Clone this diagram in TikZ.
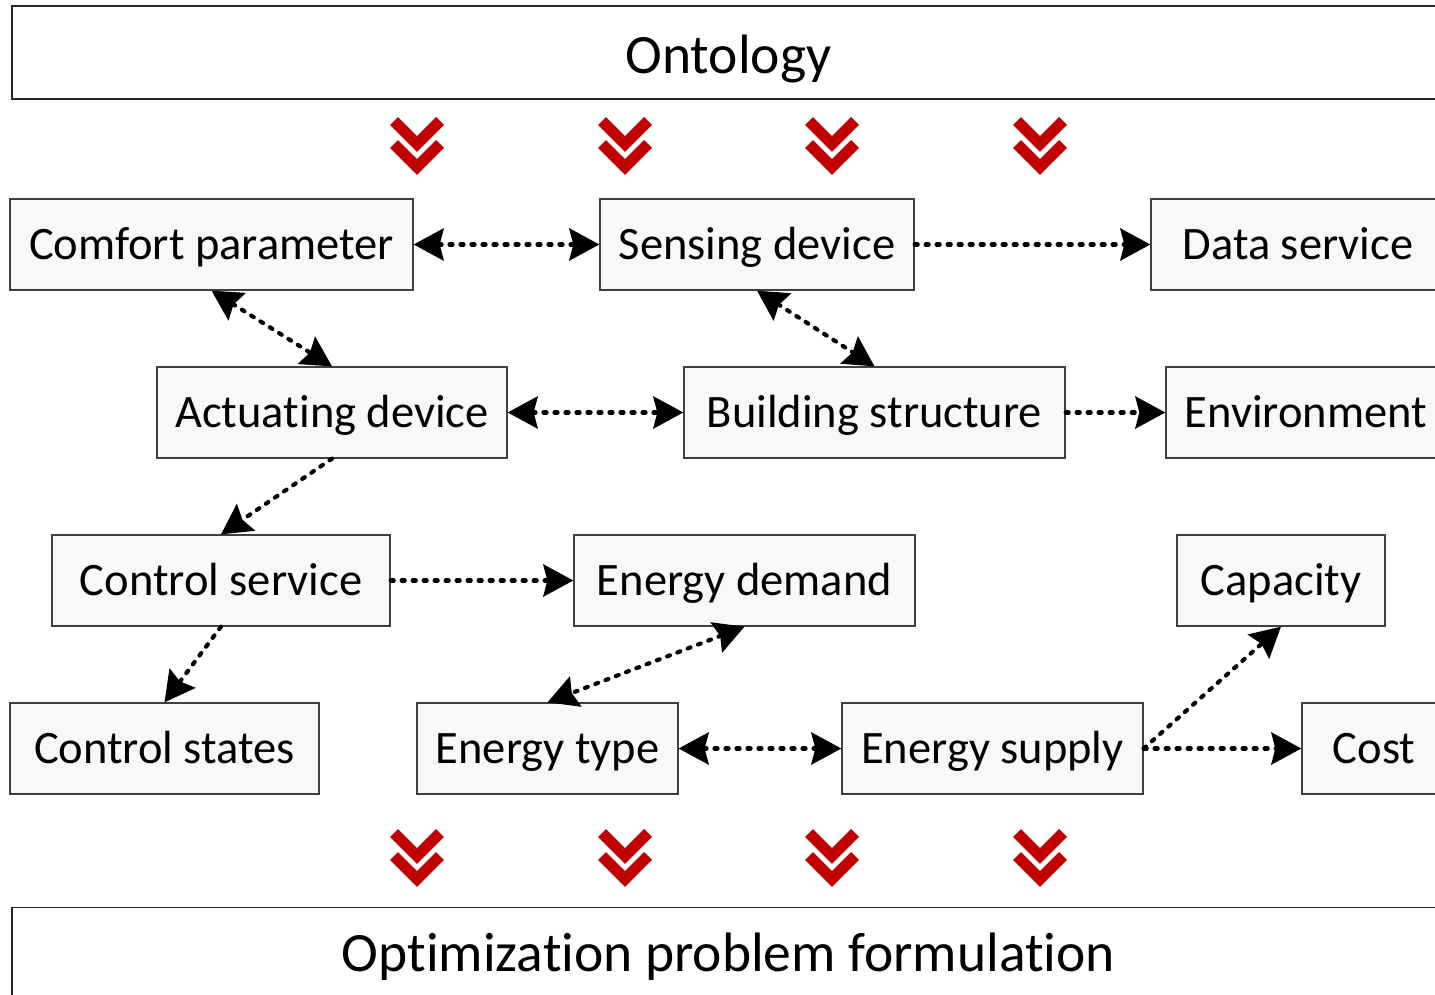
\documentclass[tikz,border=0pt]{standalone}
\usepackage{fontspec}
\setmainfont{Carlito}[Ligatures=NoCommon]
\usetikzlibrary{arrows.meta}
\definecolor{boxfill}{HTML}{F8F8F8}
\definecolor{boxline}{HTML}{404040}
\definecolor{chev}{HTML}{C00000}
\tikzset{
  item/.style={draw=boxline, line width=1.3pt, fill=boxfill, inner sep=0pt,
    minimum height=91pt, text height=31pt, text depth=2pt,
    font=\fontsize{46.5}{50}\selectfont},
  band/.style={draw=black!85, line width=1.8pt, fill=white, inner sep=0pt,
    minimum width=1433pt, text depth=2pt, font=\fontsize{55.5}{60}\selectfont},
  link/.style={line width=4.2pt, line cap=round, dash pattern=on 3pt off 8pt},
  one/.style={link, -{Stealth[length=30pt,width=32pt,inset=4pt]}},
  two/.style={link, {Stealth[length=30pt,width=32pt,inset=4pt]}-{Stealth[length=30pt,width=32pt,inset=4pt]}},
  chevline/.style={draw=chev, line width=11pt, line cap=butt, line join=miter}
}
\newcommand{\chevpair}[2]{%
  \draw[chevline] (#1-23,#2) -- (#1,#2+23) -- (#1+23,#2);
  \draw[chevline] (#1-23,#2+23) -- (#1,#2+46) -- (#1+23,#2+23);
}
\begin{document}
\begin{tikzpicture}[x=1pt,y=-1pt]
\useasboundingbox (0,0) rectangle (1435,995);
% bands
\node[band, minimum height=93pt, text height=45pt] (onto) at (728.5,52.5) {Ontology};
\node[band, minimum height=93pt, text height=36pt] (opt) at (728.5,954) {Optimization problem formulation};
% boxes
\node[item, minimum width=403pt] (cp) at (211.5,244.5) {Comfort parameter};
\node[item, minimum width=314pt] (sd) at (757,244.5) {Sensing device};
\node[item, minimum width=294pt] (ds) at (1298,244.5) {Data service};
\node[item, minimum width=350pt] (ad) at (332,412.5) {Actuating device};
\node[item, minimum width=381pt] (bs) at (874.5,412.5) {Building structure};
\node[item, minimum width=280pt] (env) at (1306,412.5) {Environment};
\node[item, minimum width=338pt] (cs) at (221,580.5) {Control service};
\node[item, minimum width=341pt] (ed) at (744.5,580.5) {Energy demand};
\node[item, minimum width=208pt] (cap) at (1281,580.5) {Capacity};
\node[item, minimum width=309pt] (cst) at (164.5,748.5) {Control states};
\node[item, minimum width=261pt] (et) at (547.5,748.5) {Energy type};
\node[item, minimum width=301pt] (es) at (992.5,748.5) {Energy supply};
\node[item, minimum width=144pt] (cost) at (1374,748.5) {Cost};
% chevrons
\foreach \cx in {417,625,832,1040}{
  \chevpair{\cx}{121}
  \chevpair{\cx}{833}
}
% connectors
\draw[two] (cp.east) -- (sd.west);
\draw[one] (sd.east) -- (ds.west);
\draw[two] (cp.south) -- (ad.north);
\draw[two] (sd.south) -- (bs.north);
\draw[two] (ad.east) -- (bs.west);
\draw[one] (bs.east) -- (env.west);
\draw[one] (ad.south) -- (cs.north);
\draw[one] (cs.east) -- (ed.west);
\draw[one] (cs.south) -- (cst.north);
\draw[two] (ed.south) -- (et.north);
\draw[two] (et.east) -- (es.west);
\draw[one] (es.east) -- (cap.south);
\draw[one] (es.east) -- (cost.west);
\end{tikzpicture}
\end{document}
